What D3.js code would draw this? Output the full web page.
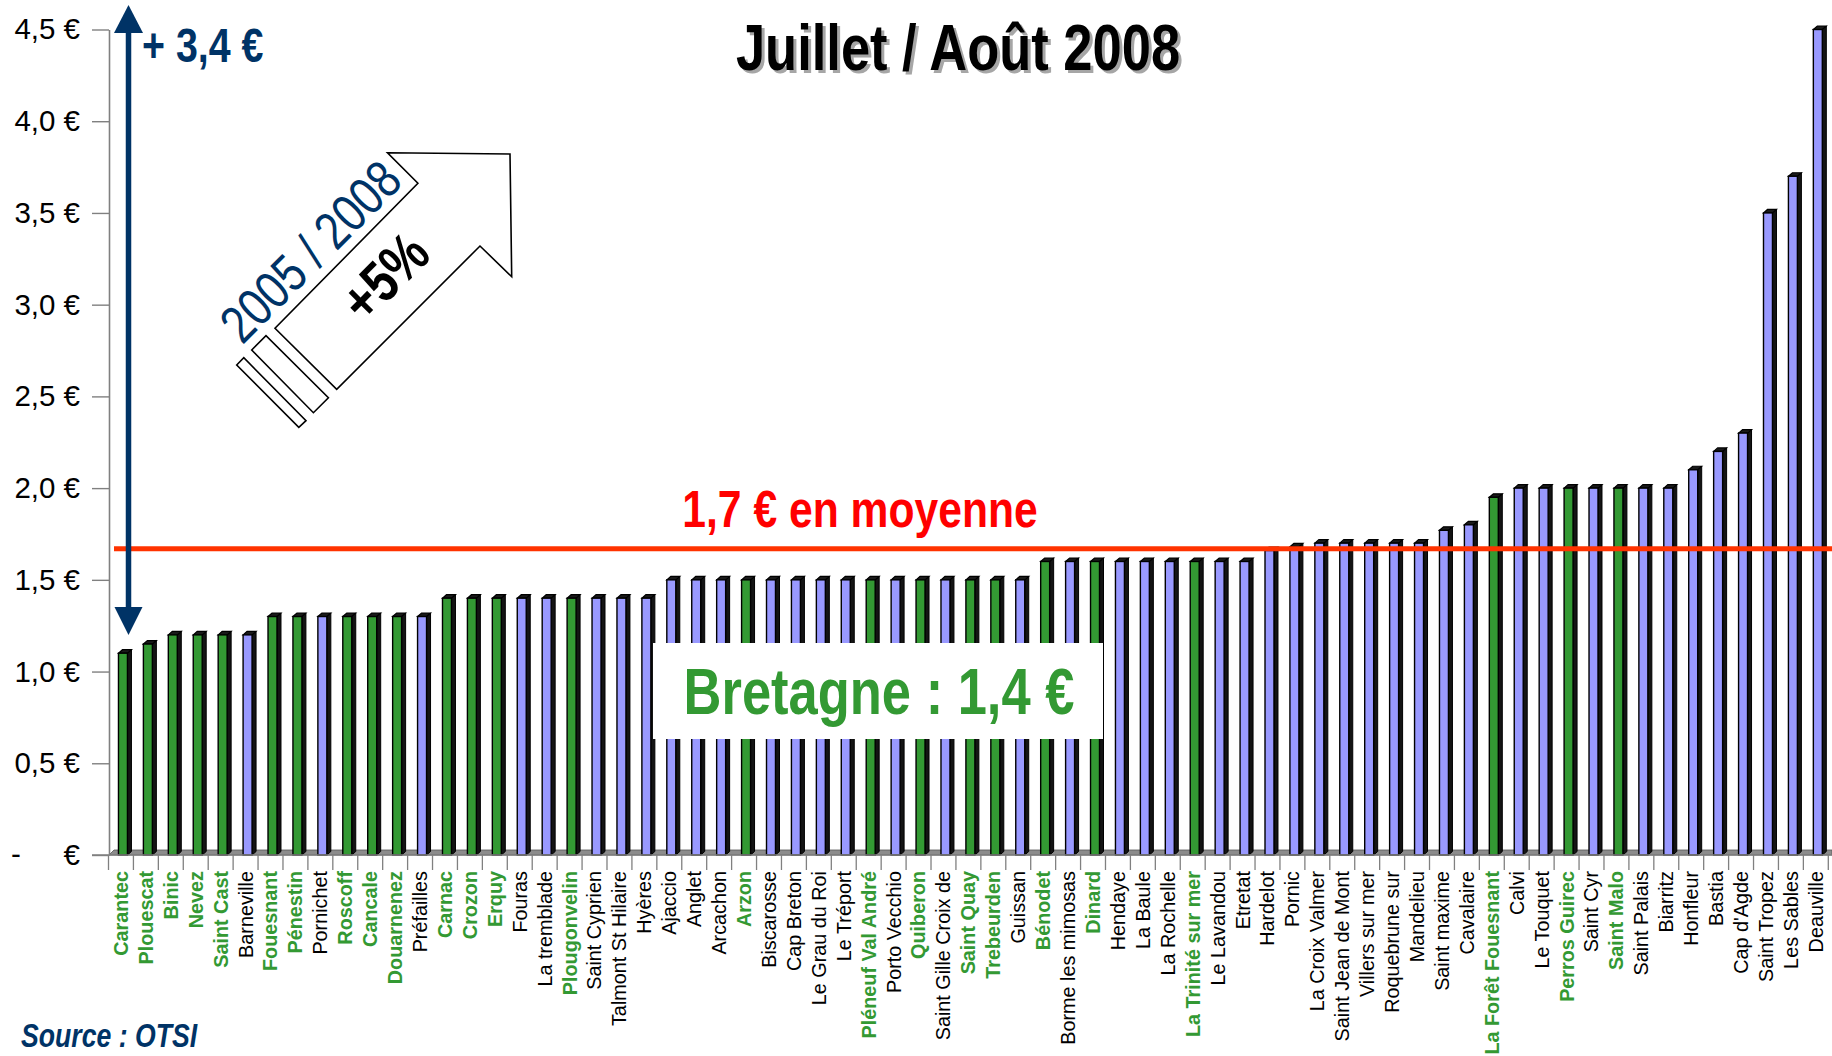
<!DOCTYPE html>
<html>
<head>
<meta charset="utf-8">
<script src="https://cdn.jsdelivr.net/npm/d3@7"></script>
<style>
  html, body { margin: 0; padding: 0; background: #ffffff; }
  svg { display: block; }
  text { font-family: "Liberation Sans", Arial, sans-serif; }
</style>
</head>
<body>
<svg id="chart" width="1832" height="1056"></svg>
<script>
// ---------------- DATA ----------------
const categories = [
  "Carantec", "Plouescat", "Binic", "Nevez", "Saint Cast", "Barneville", "Fouesnant", "Pénestin",
  "Pornichet", "Roscoff", "Cancale", "Douarnenez", "Préfailles", "Carnac", "Crozon", "Erquy",
  "Fouras", "La tremblade", "Plougonvelin", "Saint Cyprien", "Talmont St Hilaire", "Hyères",
  "Ajaccio", "Anglet", "Arcachon", "Arzon", "Biscarosse", "Cap Breton", "Le Grau du Roi",
  "Le Tréport", "Pléneuf Val André", "Porto Vecchio", "Quiberon", "Saint Gille Croix de",
  "Saint Quay", "Trebeurden", "Guissan", "Bénodet", "Borme les mimosas", "Dinard", "Hendaye",
  "La Baule", "La Rochelle", "La Trinité sur mer", "Le Lavandou", "Etretat", "Hardelot", "Pornic",
  "La Croix Valmer", "Saint Jean de Mont", "Villers sur mer", "Roquebrune sur", "Mandelieu",
  "Saint maxime", "Cavalaire", "La Forêt Fouesnant", "Calvi", "Le Touquet", "Perros Guirec",
  "Saint Cyr", "Saint Malo", "Saint Palais", "Biarritz", "Honfleur", "Bastia", "Cap d'Agde",
  "Saint Tropez", "Les Sables", "Deauville"
];
const values = [
  1.1, 1.15, 1.2, 1.2, 1.2, 1.2, 1.3, 1.3,
  1.3, 1.3, 1.3, 1.3, 1.3, 1.4, 1.4, 1.4,
  1.4, 1.4, 1.4, 1.4, 1.4, 1.4,
  1.5, 1.5, 1.5, 1.5, 1.5, 1.5, 1.5,
  1.5, 1.5, 1.5, 1.5, 1.5,
  1.5, 1.5, 1.5, 1.6, 1.6, 1.6, 1.6,
  1.6, 1.6, 1.6, 1.6, 1.6, 1.66, 1.68,
  1.7, 1.7, 1.7, 1.7, 1.7,
  1.77, 1.8, 1.95, 2.0, 2.0, 2.0,
  2.0, 2.0, 2.0, 2.0, 2.1, 2.2, 2.3,
  3.5, 3.7, 4.5
];
// 1 = Bretagne (green), 0 = other (blue)
const bretagne = [
  1, 1, 1, 1, 1, 0, 1, 1,
  0, 1, 1, 1, 0, 1, 1, 1,
  0, 0, 1, 0, 0, 0,
  0, 0, 0, 1, 0, 0, 0,
  0, 1, 0, 1, 0,
  1, 1, 0, 1, 0, 1, 0,
  0, 0, 1, 0, 0, 0, 0,
  0, 0, 0, 0, 0,
  0, 0, 1, 0, 0, 1,
  0, 1, 0, 0, 0, 0, 0,
  0, 0, 0
];
const yTicks = [0, 0.5, 1.0, 1.5, 2.0, 2.5, 3.0, 3.5, 4.0, 4.5];
const average = 1.67;
const titleText = "Juillet / Août 2008";
const averageText = "1,7 € en moyenne";
const bretagneText = "Bretagne : 1,4 €";
const spreadText = "+ 3,4 €";
const periodText = "2005 / 2008";
const growthText = "+5%";
const sourceText = "Source : OTSI";

// ---------------- SETUP ----------------
const svg = d3.select("#chart");
const GREEN = "#339933", BLUE = "#9999FF", NAVY = "#003366";
const NARROW = 0.82; // horizontal condensation to mimic a narrow typeface

const x = d3.scaleBand().domain(categories).range([108.5, 1828.3]).paddingInner(0).paddingOuter(0);
const y = d3.scaleLinear().domain([0, 4.5]).range([855, 29.5]);
const bw = x.bandwidth();
const y0 = y(0);

function narrowText(px, py, txt, o) {
  return svg.append("text")
    .attr("transform", `translate(${px},${py}) rotate(${o.rotate || 0}) scale(${NARROW},1)`)
    .attr("x", 0).attr("y", o.dy || 0)
    .attr("text-anchor", o.anchor || "start")
    .attr("font-size", o.size)
    .attr("font-weight", o.weight || "normal")
    .attr("font-style", o.style || "normal")
    .attr("fill", o.fill || "#000")
    .text(txt);
}

// floor (3D base)
const depthX = 4, depthY = 3.5;
svg.append("polygon")
  .attr("points", [[109, y0], [114, y0 - 5], [1832, y0 - 5], [1832, y0]].map(p => p.join(",")).join(" "))
  .attr("fill", "#8c8c8c").attr("stroke", "#555").attr("stroke-width", 0.8);

// ---------------- BARS ----------------
const data = categories.map((c, i) => ({ c, v: values[i], b: bretagne[i] === 1 }));
const bars = svg.append("g").selectAll("g").data(data).join("g");
bars.each(function (d) {
  const g = d3.select(this);
  const x0 = x(d.c) + 0.40 * bw, w = 0.36 * bw, x1 = x0 + w;
  const yt = y(d.v);
  g.append("polygon")
    .attr("points", [[x1, y0], [x1, yt], [x1 + depthX, yt - depthY], [x1 + depthX, y0 - depthY]].map(p => p.join(",")).join(" "))
    .attr("fill", "#141414").attr("stroke", "#000").attr("stroke-width", 1);
  g.append("polygon")
    .attr("points", [[x0, yt], [x0 + depthX, yt - depthY], [x1 + depthX, yt - depthY], [x1, yt]].map(p => p.join(",")).join(" "))
    .attr("fill", "#1a1a1a").attr("stroke", "#000").attr("stroke-width", 1.2);
  g.append("rect")
    .attr("x", x0).attr("y", yt).attr("width", w).attr("height", y0 - yt)
    .attr("fill", d.b ? GREEN : BLUE).attr("stroke", "#000").attr("stroke-width", 1.4);
});

// ---------------- AXES ----------------
const fmt = v => d3.format(".1f")(v).replace(".", ",") + " €";
const yAxis = d3.axisLeft(y).tickValues(yTicks).tickSize(17).tickSizeOuter(0).tickPadding(12)
  .tickFormat(v => v === 0 ? "€" : fmt(v));
const gy = svg.append("g").attr("transform", "translate(109,0)").call(yAxis);
gy.select(".domain").attr("stroke", "#808080").attr("stroke-width", 1.6);
gy.selectAll(".tick line").attr("stroke", "#808080").attr("stroke-width", 1.4);
gy.selectAll(".tick text").attr("font-size", 29.5).attr("fill", "#000")
  .attr("font-family", "Liberation Sans, Arial, sans-serif");
svg.append("text").attr("x", 16).attr("y", y0).attr("dy", "0.32em")
  .attr("text-anchor", "middle").attr("font-size", 29.5).text("-");

// x axis line & boundary ticks
svg.append("line").attr("x1", 92).attr("x2", 1832).attr("y1", y0).attr("y2", y0)
  .attr("stroke", "#808080").attr("stroke-width", 1.6);
const bounds = categories.map(c => x(c)).concat([x.range()[1]]);
svg.append("g").selectAll("line").data(bounds).join("line")
  .attr("x1", d => d).attr("x2", d => d).attr("y1", y0).attr("y2", y0 + 15)
  .attr("stroke", "#808080").attr("stroke-width", 1.3);

// x labels
svg.append("g").selectAll("text").data(data).join("text")
  .attr("transform", d => `translate(${x(d.c) + bw / 2},${y0 + 16}) rotate(-90)`)
  .attr("text-anchor", "end").attr("dy", "0.35em")
  .attr("font-size", 19.8)
  .attr("font-weight", d => d.b ? "bold" : "normal")
  .attr("fill", d => d.b ? GREEN : "#000")
  .text(d => d.c);

// ---------------- ANNOTATIONS ----------------
// average line
svg.append("line").attr("x1", 114).attr("x2", 1832).attr("y1", y(average)).attr("y2", y(average))
  .attr("stroke", "#FF3300").attr("stroke-width", 5);
narrowText(860, y(average) - 22, averageText, { anchor: "middle", size: 52, weight: "bold", fill: "#FF0000" });

// spread double arrow
const ax = 128.5;
svg.append("line").attr("x1", ax).attr("x2", ax).attr("y1", 30).attr("y2", 610)
  .attr("stroke", NAVY).attr("stroke-width", 5.5);
svg.append("polygon").attr("points", `${ax - 14.5},33 ${ax},5 ${ax + 14.5},33`).attr("fill", NAVY);
svg.append("polygon").attr("points", `${ax - 14},607 ${ax},635 ${ax + 14},607`).attr("fill", NAVY);
narrowText(142, 62, spreadText, { size: 48, weight: "bold", fill: NAVY });

// title with shadow
narrowText(961, 73, titleText, { anchor: "middle", size: 64, weight: "bold", fill: "#a6a6a6" });
narrowText(958, 70, titleText, { anchor: "middle", size: 64, weight: "bold", fill: "#000" });

// big outlined arrow
const arrowPts = [[387.5, 152.7], [510, 154], [511.7, 276.7], [480, 246], [336.7, 389.3], [275, 328.3], [417.9, 183.3]];
svg.append("polygon").attr("points", arrowPts.map(p => p.join(",")).join(" "))
  .attr("fill", "#fff").attr("stroke", "#000").attr("stroke-width", 1.6).attr("stroke-linejoin", "miter");
const stripe1 = [[251.7, 350], [266, 335.7], [328.4, 397.7], [313.4, 412.7]];
const stripe2 = [[236.7, 365], [243.8, 357.7], [306, 420.7], [298.8, 427.3]];
[stripe1, stripe2].forEach(s => svg.append("polygon").attr("points", s.map(p => p.join(",")).join(" "))
  .attr("fill", "#fff").attr("stroke", "#000").attr("stroke-width", 1.6));
narrowText(310, 251, periodText, { rotate: -45, anchor: "middle", dy: 19, size: 53, fill: NAVY });
narrowText(384, 276, growthText, { rotate: -45, anchor: "middle", dy: 21, size: 58, weight: "bold" });

// Bretagne box
svg.append("rect").attr("x", 653).attr("y", 643).attr("width", 450).attr("height", 96).attr("fill", "#fff");
narrowText(879, 714, bretagneText, { anchor: "middle", size: 64, weight: "bold", fill: GREEN });

// source
narrowText(21, 1047, sourceText, { size: 32.5, weight: "bold", style: "italic", fill: NAVY });
</script>
</body>
</html>
